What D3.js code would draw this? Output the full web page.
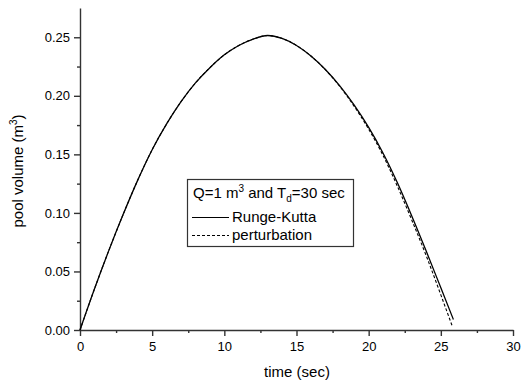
<!DOCTYPE html>
<html lang="en">
<head>
    <meta charset="UTF-8">
    <title>pool volume</title>
    <style>
        body {
            margin: 0;
            padding: 0;
            background-color: #fff;
        }
        svg text {
            font-family: "Liberation Sans", Arial, sans-serif;
            fill: #000;
        }
        .axis path, .axis line {
            stroke: #333;
            stroke-width: 1.4px;
        }
    </style>
</head>
<body>

<svg width="523" height="383" id="chart"></svg>

<script src="https://d3js.org/d3.v7.min.js"></script>
<script>
    // values
    const rkTime = [0, 1, 2, 3, 4, 5, 6, 7, 8, 9, 10, 11, 12, 13, 14, 15, 16, 17, 18, 19, 20, 21, 22, 23, 24, 25, 25.87];
    const rkVolume = [0, 0.035, 0.068, 0.099, 0.128, 0.154, 0.176, 0.195, 0.211, 0.224, 0.235, 0.243, 0.2485, 0.2515,
        0.249, 0.243, 0.234, 0.2225, 0.2085, 0.192, 0.173, 0.151, 0.1255, 0.097, 0.067, 0.036, 0.009];
    const ptTime = [0, 1, 2, 3, 4, 5, 6, 7, 8, 9, 10, 11, 12, 13, 14, 15, 16, 17, 18, 19, 20, 21, 22, 23, 24, 25, 25.8];
    const ptVolume = [0, 0.035, 0.068, 0.099, 0.128, 0.154, 0.176, 0.195, 0.211, 0.224, 0.235, 0.243, 0.2485, 0.2515,
        0.249, 0.243, 0.234, 0.2223, 0.208, 0.191, 0.1715, 0.149, 0.1225, 0.0935, 0.063, 0.030, 0.003];

    const xTicks = [0, 5, 10, 15, 20, 25, 30];
    const xMinor = [2.5, 7.5, 12.5, 17.5, 22.5, 27.5];
    const yTicks = [0, 0.05, 0.10, 0.15, 0.20, 0.25];
    const yMinor = [0.025, 0.075, 0.125, 0.175, 0.225];

    const svg = d3.select("#chart");

    const x = d3.scaleLinear().domain([0, 30]).range([80, 513]);
    const y = d3.scaleLinear().domain([0, 0.275]).range([330, 8]);

    // minor ticks
    svg.append("g")
        .attr("class", "axis")
        .attr("transform", "translate(0,330)")
        .call(d3.axisBottom(x).tickValues(xMinor).tickSize(3).tickFormat(""))
        .call(g => g.select(".domain").remove());
    svg.append("g")
        .attr("class", "axis")
        .attr("transform", "translate(80,0)")
        .call(d3.axisLeft(y).tickValues(yMinor).tickSize(3).tickFormat(""))
        .call(g => g.select(".domain").remove());

    // main axes
    const xAxis = svg.append("g")
        .attr("class", "axis")
        .attr("transform", "translate(0,330)")
        .call(d3.axisBottom(x).tickValues(xTicks).tickSize(6).tickSizeOuter(0).tickFormat(d3.format("d")));
    xAxis.selectAll("text").attr("font-size", 13).attr("dy", "0.95em");

    const yAxis = svg.append("g")
        .attr("class", "axis")
        .attr("transform", "translate(80,0)")
        .call(d3.axisLeft(y).tickValues(yTicks).tickSize(6).tickSizeOuter(0).tickFormat(d3.format(".2f")));
    yAxis.selectAll("text").attr("font-size", 13).attr("x", -10);

    // axis titles
    svg.append("text")
        .attr("x", 297)
        .attr("y", 377)
        .attr("text-anchor", "middle")
        .attr("font-size", 15)
        .text("time (sec)");

    const yTitle = svg.append("text")
        .attr("transform", "translate(23,171) rotate(-90)")
        .attr("text-anchor", "middle")
        .attr("font-size", 15);
    yTitle.append("tspan").text("pool volume (m");
    yTitle.append("tspan").attr("font-size", 10).attr("dy", -6).text("3");
    yTitle.append("tspan").attr("dy", 6).text(")");

    // curves
    const line = d3.line()
        .x(d => x(d[0]))
        .y(d => y(d[1]))
        .curve(d3.curveMonotoneX);

    svg.append("path")
        .datum(ptTime.map((t, i) => [t, ptVolume[i]]))
        .attr("fill", "none")
        .attr("stroke", "#000")
        .attr("stroke-width", 1.1)
        .attr("stroke-dasharray", "3,2")
        .attr("d", line);

    svg.append("path")
        .datum(rkTime.map((t, i) => [t, rkVolume[i]]))
        .attr("fill", "none")
        .attr("stroke", "#000")
        .attr("stroke-width", 1.3)
        .attr("d", line);

    // legend
    const legend = svg.append("g");
    legend.append("rect")
        .attr("x", 187.5)
        .attr("y", 179.5)
        .attr("width", 166)
        .attr("height", 67)
        .attr("fill", "#fff")
        .attr("stroke", "#333")
        .attr("stroke-width", 1.2);

    const title = legend.append("text")
        .attr("x", 193)
        .attr("y", 198)
        .attr("font-size", 15);
    title.append("tspan").text("Q=1 m");
    title.append("tspan").attr("font-size", 10).attr("dy", -6).text("3");
    title.append("tspan").attr("dy", 6).text(" and T");
    title.append("tspan").attr("font-size", 10).attr("dy", 4).text("d");
    title.append("tspan").attr("dy", -4).text("=30 sec");

    legend.append("line")
        .attr("x1", 192).attr("x2", 229)
        .attr("y1", 217.5).attr("y2", 217.5)
        .attr("stroke", "#000")
        .attr("stroke-width", 1.1);
    legend.append("text")
        .attr("x", 232)
        .attr("y", 222)
        .attr("font-size", 15)
        .text("Runge-Kutta");

    legend.append("line")
        .attr("x1", 192).attr("x2", 229)
        .attr("y1", 235.5).attr("y2", 235.5)
        .attr("stroke", "#000")
        .attr("stroke-width", 1)
        .attr("stroke-dasharray", "3,2");
    legend.append("text")
        .attr("x", 232)
        .attr("y", 240)
        .attr("font-size", 15)
        .text("perturbation");
</script>

</body>
</html>
